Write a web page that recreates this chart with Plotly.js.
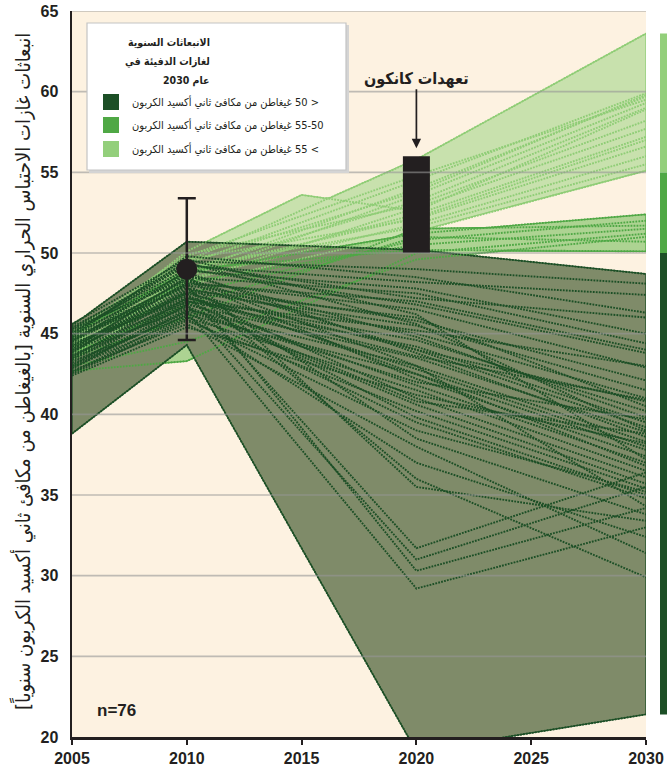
<!DOCTYPE html>
<html>
<head>
<meta charset="utf-8">
<script src="https://cdn.plot.ly/plotly-3.0.1.min.js"></script>
<style>html,body{margin:0;padding:0;background:#fff;}#chart{width:667px;height:774px;}</style>
</head>
<body>
<div id="chart"></div>
<script>
// ---------- DATA ----------
const YEARS = [2005, 2010, 2015, 2020, 2025, 2030];
const X_TICKS = [2005, 2010, 2015, 2020, 2025, 2030];
const Y_TICKS = [20, 25, 30, 35, 40, 45, 50, 55, 60, 65];
const GRID_Y = [25, 30, 35, 40, 45, 50, 55, 60, 65];

// scenarios with 2030 emissions < 50 Gt (values at YEARS, null = not reported)
const DARK = [
  [45.5,50.7,null,50.2,null,48.7],[45.0,49.5,null,49.0,null,48.1],[44.8,49.8,null,48.5,null,46.3],
  [44.5,48.9,null,47.8,null,45.0],[44.0,48.5,null,47.5,null,44.4],[45.2,49.0,null,46.8,null,43.8],
  [43.8,48.2,null,46.5,null,42.9],[44.6,48.0,null,45.8,null,42.1],[43.5,47.6,null,45.5,null,41.5],
  [44.2,47.8,null,45.0,null,41.0],[43.0,47.2,null,44.6,null,40.2],[44.9,48.6,null,44.8,null,39.8],
  [43.6,47.0,null,44.2,null,39.5],[44.3,47.5,null,44.0,null,39.2],[42.8,46.8,null,43.5,null,38.9],
  [45.1,48.8,null,43.8,null,38.6],[43.2,46.5,null,43.0,null,38.3],[44.0,47.3,null,42.8,null,38.0],
  [42.6,46.2,null,42.5,null,37.8],[44.7,48.3,null,42.2,null,37.4],[43.4,46.9,null,41.8,null,37.0],
  [42.9,46.0,null,41.5,null,36.5],[44.1,47.4,null,41.0,null,36.1],[43.7,46.6,null,40.6,null,35.7],
  [42.5,45.8,null,40.2,null,35.4],[44.4,47.1,null,39.8,null,35.0],[43.1,46.3,null,39.5,null,34.8],
  [45.3,48.4,null,43.0,null,34.3],[44.0,47.5,null,31.7,null,36.4],[43.5,46.8,null,31.0,null,35.5],
  [44.5,48.0,null,30.3,null,34.2],[43.0,46.4,null,29.2,null,33.0],[44.8,48.7,null,35.5,null,33.4],
  [43.3,46.1,null,37.0,null,32.4],[42.7,45.6,null,38.0,null,31.4],[44.6,47.9,null,36.0,null,29.9],
  [38.8,44.3,null,19.1,null,21.4],[45.4,49.2,null,48.2,null,47.4],[44.2,48.1,null,47.0,null,44.0],
  [43.9,47.7,null,46.0,null,40.5],[42.4,45.4,null,41.2,null,38.2],[45.6,49.6,null,46.2,null,37.2],
  [43.9,47.0,null,45.2,null,43.0],[44.5,48.4,null,44.0,null,40.8],[42.9,46.4,null,42.0,null,39.7],
  [45.0,49.3,null,47.2,null,46.0],[43.4,46.7,null,40.8,null,38.8],[44.2,47.6,null,42.5,null,36.8],
  [42.6,45.9,null,39.0,null,35.2],[44.7,48.1,null,38.5,null,33.8],[43.6,47.2,null,43.6,null,40.9],
  [45.3,49.4,null,45.6,null,39.0]
];
// scenarios with 2030 emissions 50-55 Gt
const MEDIUM = [
  [45.0,48.8,null,51.2,null,52.4],[44.2,47.5,null,50.8,null,52.0],[43.5,46.0,null,51.5,null,51.7],
  [44.6,48.2,null,50.5,null,51.5],[42.7,43.3,null,50.0,null,51.2],[43.8,46.8,null,51.0,null,50.7],
  [44.9,49.0,null,50.2,null,50.1],[43.0,44.5,null,49.6,null,51.0]
];
// scenarios with 2030 emissions > 55 Gt
const LIGHT = [
  [44.6,50.1,53.6,52.6,null,58.9],[45.0,49.5,null,55.8,null,63.6],[44.2,49.3,null,54.5,null,59.9],
  [43.9,48.8,null,54.0,null,59.7],[44.7,49.8,null,54.8,null,59.5],[43.6,48.5,null,53.6,null,59.3],
  [44.4,49.0,null,53.2,null,59.0],[45.1,49.9,null,53.0,null,58.2],[43.3,48.2,null,52.8,null,57.7],
  [44.0,48.7,null,52.4,null,57.2],[44.9,49.6,null,52.1,null,56.6],[43.7,48.4,null,51.8,null,56.0],
  [44.3,49.1,null,51.6,null,55.5],[43.4,48.0,null,51.3,null,55.1],[44.5,49.4,null,53.8,null,59.8],
  [44.1,48.9,null,52.2,null,57.0]
];

const OBS_YEAR = [2010];
const OBS_VALUE = [49.0];
const OBS_ERROR = [4.4];

const CANCUN_YEAR = [2020];
const CANCUN_LOW = [50.0];
const CANCUN_HIGH = [56.0];
const CANCUN_LABEL = 'تعهدات كانكون';

const GROUP_LIMITS = [50, 55];  // Gt boundaries between the three groups

const Y_TITLE = 'انبعاثات غازات الاحتباس الحراري السنوية [بالغيغاطن من مكافئ ثاني أكسيد الكربون سنوياً]';
const LEGEND_TITLE = ['الانبعاثات السنوية', 'لغازات الدفيئة في', 'عام 2030'];
const LEGEND_LABELS = [
  '< 50 غيغاطن من مكافئ ثاني أكسيد الكربون',
  '55-50 غيغاطن من مكافئ ثاني أكسيد الكربون',
  '> 55 غيغاطن من مكافئ ثاني أكسيد الكربون'
];

// ---------- STYLE ----------
const C_DARK = '#1c4f26', C_MED = '#4fa845', C_LIGHT = '#8fcd76';
const F_DARK = '#7f8b69', F_MED = '#add392', F_LIGHT = '#c8e1ad';
const INK = '#231f20';
const NUMFONT = 'Liberation Sans, Arial, sans-serif';
const ARFONT = 'DejaVu Sans Condensed, DejaVu Sans, sans-serif';
const RLE = '\u202B', PDF = '\u202C';

const W = 667, H = 774, ML = 72, MR = 21, MT = 11, MB = 37;
const PW = W - ML - MR, PH = H - MT - MB;
const PX = p => (p - ML) / PW;
const PY = p => (H - MB - p) / PH;
const YR = [20, 65];
const VY = v => (v - YR[0]) / (YR[1] - YR[0]);

// ---------- HELPERS ----------
function valAt(s, t) {
  const pts = [];
  s.forEach((v, i) => { if (v !== null) pts.push([YEARS[i], v]); });
  for (let i = 0; i < pts.length - 1; i++) {
    const [x0, y0] = pts[i], [x1, y1] = pts[i + 1];
    if (t >= x0 && t <= x1) return y0 + (y1 - y0) * (t - x0) / (x1 - x0);
  }
  return null;
}
function envelope(group) {
  const xs = [], up = [], lo = [];
  for (let t = YEARS[0]; t <= YEARS[YEARS.length - 1] + 1e-9; t += 0.25) {
    const vals = group.map(s => valAt(s, t)).filter(v => v !== null);
    xs.push(t); up.push(Math.max(...vals)); lo.push(Math.min(...vals));
  }
  return { x: xs.concat(xs.slice().reverse(), [xs[0]]), y: up.concat(lo.slice().reverse(), [up[0]]) };
}

const groups = [
  { data: LIGHT, line: C_LIGHT, fill: F_LIGHT },
  { data: MEDIUM, line: C_MED, fill: F_MED },
  { data: DARK, line: C_DARK, fill: F_DARK }
];

const traces = [];
groups.forEach(g => {
  const e = envelope(g.data);
  traces.push({ type: 'scatter', mode: 'lines', x: e.x, y: e.y, fill: 'toself', fillcolor: g.fill,
    line: { color: g.line, width: 1.3 }, hoverinfo: 'skip', showlegend: false });
});
groups.forEach(g => {
  g.data.forEach(s => {
    traces.push({ type: 'scatter', mode: 'lines', x: YEARS, y: s, connectgaps: true,
      line: { color: g.line, width: 1.9, dash: '1.8px,1.2px' }, hoverinfo: 'skip', showlegend: false });
  });
});
// Cancun pledge range (drawn as a thick vertical segment so it sits above the envelopes)
traces.push({ type: 'scatter', mode: 'lines', x: [CANCUN_YEAR[0], CANCUN_YEAR[0]], y: [CANCUN_LOW[0], CANCUN_HIGH[0]],
  line: { color: INK, width: 27 }, hoverinfo: 'skip', showlegend: false });
traces.push({ type: 'scatter', mode: 'markers', x: OBS_YEAR, y: OBS_VALUE,
  marker: { size: 21, color: INK },
  error_y: { type: 'data', array: OBS_ERROR, visible: true, color: INK, thickness: 2.5, width: 9 },
  hoverinfo: 'skip', showlegend: false });

// ---------- SHAPES ----------
const shapes = [];
GRID_Y.forEach(v => shapes.push({ type: 'line', xref: 'paper', yref: 'y', x0: 0, x1: 1, y0: v, y1: v,
  line: { color: 'rgba(150,150,150,0.6)', width: 1.6 }, layer: 'above' }));

// right-hand range bars (group ranges in 2030)
const last = YEARS.length - 1;
const all2030 = g => g.map(s => s[last]);
const barRanges = [
  [Math.min(...all2030(DARK)), GROUP_LIMITS[0], C_DARK],
  [GROUP_LIMITS[0], GROUP_LIMITS[1], C_MED],
  [GROUP_LIMITS[1], Math.max(...all2030(LIGHT)), '#93cf7b']
];
barRanges.forEach(r => shapes.push({ type: 'rect', xref: 'paper', yref: 'paper',
  x0: PX(660), x1: PX(670), y0: VY(r[0]), y1: VY(r[1]), fillcolor: r[2], line: { width: 0 }, layer: 'above' }));

// legend box
shapes.push({ type: 'rect', xref: 'paper', yref: 'paper', x0: PX(89), x1: PX(349), y0: PY(173), y1: PY(25),
  fillcolor: '#d4d4d4', line: { width: 0 }, layer: 'above' });
shapes.push({ type: 'rect', xref: 'paper', yref: 'paper', x0: PX(87), x1: PX(346), y0: PY(170), y1: PY(23),
  fillcolor: '#ffffff', line: { color: '#c4c4c4', width: 1.2 }, layer: 'above' });
const legendColors = [C_DARK, C_MED, '#93cf7b'];
const legendY = [102, 125, 149];
legendColors.forEach((c, i) => shapes.push({ type: 'rect', xref: 'paper', yref: 'paper',
  x0: PX(103), x1: PX(119), y0: PY(legendY[i] + 8), y1: PY(legendY[i] - 8), fillcolor: c, line: { width: 0 }, layer: 'above' }));

// ---------- ANNOTATIONS ----------
const annotations = [];
annotations.push({ xref: 'paper', yref: 'paper', x: PX(22), y: PY(372), text: RLE + Y_TITLE + PDF,
  textangle: -90, showarrow: false, xanchor: 'center', yanchor: 'middle',
  font: { family: ARFONT, size: 20, color: INK } });
annotations.push({ xref: 'x', yref: 'y', x: CANCUN_YEAR[0], y: 56.5, text: RLE + CANCUN_LABEL + PDF,
  showarrow: true, ax: 0, ay: -70, arrowhead: 2, arrowsize: 1.1, arrowwidth: 1.7, arrowcolor: INK,
  font: { family: ARFONT, size: 16, color: INK, weight: 700 } });
annotations.push({ xref: 'paper', yref: 'paper', x: PX(95), y: PY(710), xanchor: 'left', yanchor: 'middle',
  text: 'n=' + (DARK.length + MEDIUM.length + LIGHT.length), showarrow: false,
  font: { family: NUMFONT, size: 17, color: INK, weight: 700 } });
const titleY = [42, 61, 80];
LEGEND_TITLE.forEach((t, i) => annotations.push({ xref: 'paper', yref: 'paper', x: PX(212), y: PY(titleY[i]),
  xanchor: 'right', yanchor: 'middle', text: RLE + t + PDF, showarrow: false,
  font: { family: ARFONT, size: 10.5, color: INK, weight: 700 } }));
LEGEND_LABELS.forEach((t, i) => annotations.push({ xref: 'paper', yref: 'paper', x: PX(130), y: PY(legendY[i]),
  xanchor: 'left', yanchor: 'middle', text: RLE + t + PDF, showarrow: false,
  font: { family: ARFONT, size: 11, color: INK } }));

const layout = {
  width: W, height: H,
  margin: { l: ML, r: MR, t: MT, b: MB, pad: 0 },
  paper_bgcolor: '#ffffff', plot_bgcolor: '#fdf2e1',
  showlegend: false,
  xaxis: { range: [2005, 2030], tickvals: X_TICKS, ticktext: X_TICKS.map(String), showgrid: false, zeroline: false,
    showline: true, linecolor: INK, linewidth: 2.5, ticks: 'outside', ticklen: 5, tickwidth: 2, tickcolor: INK,
    tickfont: { family: NUMFONT, size: 16, color: INK, weight: 700 }, fixedrange: true, layer: 'above traces' },
  yaxis: { range: YR, tickvals: Y_TICKS, ticktext: Y_TICKS.map(String), showgrid: false, zeroline: false,
    showline: true, linecolor: INK, linewidth: 2.5, ticks: '', ticklabelstandoff: 8,
    tickfont: { family: NUMFONT, size: 16, color: INK, weight: 700 }, fixedrange: true, layer: 'above traces' },
  shapes: shapes,
  annotations: annotations
};

Plotly.newPlot('chart', traces, layout, { displayModeBar: false, staticPlot: true });
</script>
</body>
</html>
